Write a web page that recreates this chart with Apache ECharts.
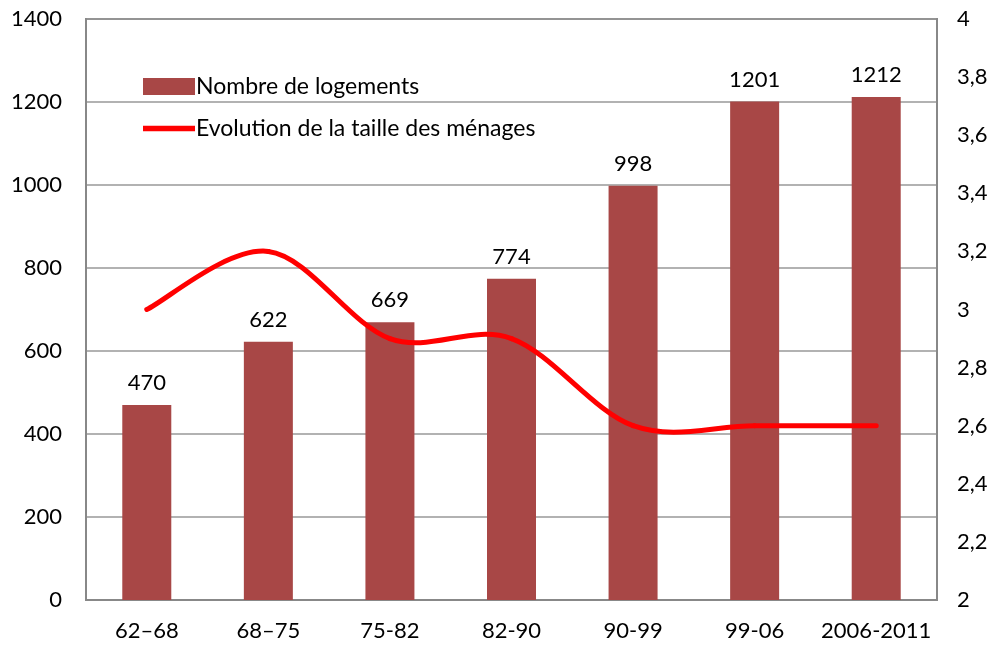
<!DOCTYPE html>
<html>
<head>
<meta charset="utf-8">
<script src="https://cdn.jsdelivr.net/npm/echarts@6/dist/echarts.min.js"></script>
<style>html,body{margin:0;padding:0;background:#fff}#c{width:994px;height:645px}</style>
</head>
<body>
<div id="c"></div>
<script>
const categories = ['62–68', '68–75', '75-82', '82-90', '90-99', '99-06', '2006-2011'];
const logements = [470, 622, 669, 774, 998, 1201, 1212];
const tailleMenages = [3.0, 3.2, 2.9, 2.9, 2.6, 2.6, 2.6];
const leftTicks = [0, 1400, 200];
const rightTicks = [2, 4, 0.2];

const FONT = 'Lato, "Open Sans", sans-serif';
const FS = 22;
const RED = '#FF0000';
const chart = echarts.init(document.getElementById('c'));

function renderSmooth(params, api) {
  const i = params.dataIndex;
  const n = tailleMenages.length;
  if (i >= n - 1) return null;
  const pt = k => api.coord([Math.max(0, Math.min(n - 1, k)), tailleMenages[Math.max(0, Math.min(n - 1, k))]]);
  const p0 = pt(i - 1), p1 = pt(i), p2 = pt(i + 1), p3 = pt(i + 2);
  const t = 1 / 6;
  return {
    type: 'bezierCurve',
    shape: {
      x1: p1[0], y1: p1[1], x2: p2[0], y2: p2[1],
      cpx1: p1[0] + (p2[0] - p0[0]) * t, cpy1: p1[1] + (p2[1] - p0[1]) * t,
      cpx2: p2[0] - (p3[0] - p1[0]) * t, cpy2: p2[1] - (p3[1] - p1[1]) * t
    },
    style: { stroke: RED, lineWidth: 5, fill: null, lineCap: 'round' }
  };
}

chart.setOption({
  animation: false,
  textStyle: { fontFamily: FONT },
  grid: { left: 86, right: 57, top: 19, bottom: 45, show: true, borderColor: '#888', borderWidth: 2, containLabel: false },
  legend: {
    orient: 'vertical', left: 138, top: 70, itemGap: 19,
    itemWidth: 52, itemHeight: 17,
    textStyle: { fontSize: 23, color: '#000', fontFamily: FONT, padding: [0, 0, 0, -4] },
    data: [
      { name: 'Nombre de logements', icon: 'rect' },
      { name: 'Evolution de la taille des ménages', icon: 'path://M0,0 L100,0 L100,11 L0,11 Z', itemStyle: { color: RED } }
    ]
  },
  xAxis: {
    type: 'category', data: categories,
    axisLine: { lineStyle: { color: '#888', width: 2 } },
    axisTick: { show: false },
    axisLabel: { fontSize: FS, color: '#000', margin: 20, fontFamily: FONT, interval: 0 }
  },
  yAxis: [
    { type: 'value', min: leftTicks[0], max: leftTicks[1], interval: leftTicks[2],
      axisLine: { show: true, lineStyle: { color: '#888', width: 2 } },
      axisTick: { show: false },
      splitLine: { lineStyle: { color: '#999', width: 1.5 } },
      axisLabel: { fontSize: FS, color: '#000', margin: 24, fontFamily: FONT, formatter: v => String(v) } },
    { type: 'value', min: rightTicks[0], max: rightTicks[1], interval: rightTicks[2],
      axisLine: { show: true, lineStyle: { color: '#888', width: 2 } },
      axisTick: { show: false },
      splitLine: { show: false },
      axisLabel: { fontSize: FS, color: '#000', margin: 20, fontFamily: FONT,
        formatter: v => (Math.round(v * 10) / 10).toString().replace('.', ',') } }
  ],
  series: [
    { name: 'Nombre de logements', type: 'bar', data: logements, barWidth: 49,
      itemStyle: { color: '#A84746' },
      label: { show: true, position: 'top', distance: 11, fontSize: FS, color: '#000', fontFamily: FONT } },
    { name: 'Evolution de la taille des ménages', type: 'custom', yAxisIndex: 1,
      data: tailleMenages.map((v, i) => [i, v]),
      encode: { x: 0, y: 1 },
      itemStyle: { color: RED },
      renderItem: renderSmooth, z: 5 }
  ]
});
</script>
</body>
</html>
